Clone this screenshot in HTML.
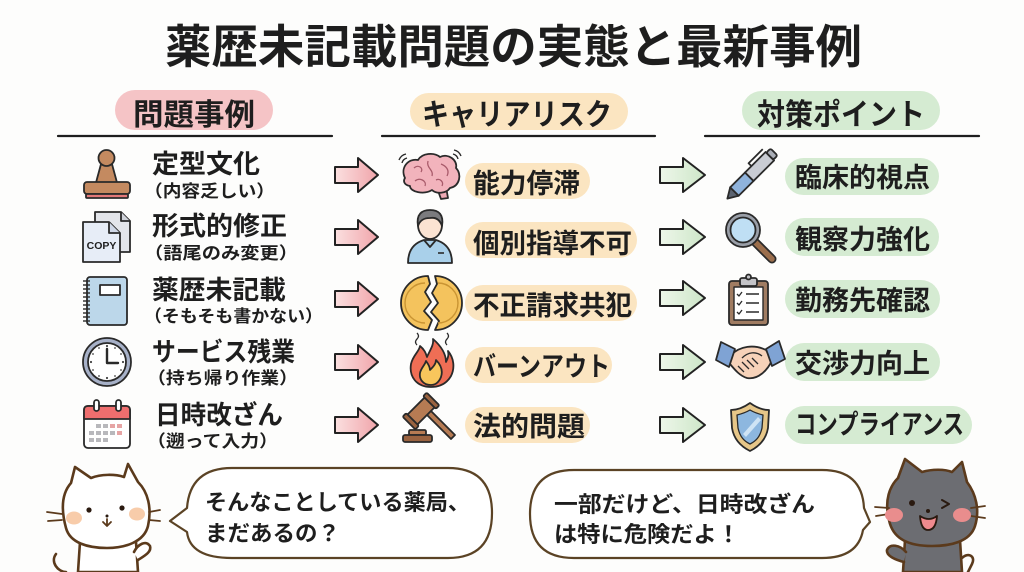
<!DOCTYPE html>
<html><head><meta charset="utf-8">
<style>
html,body{margin:0;padding:0;background:#fdfdfc;}
svg{display:block;}
text{font-family:"Liberation Sans","Noto Sans CJK JP",sans-serif;font-weight:700;fill:#1e1e1e;}
</style></head>
<body>
<svg width="1024" height="572" viewBox="0 0 1024 572" xmlns="http://www.w3.org/2000/svg">
<defs>
<linearGradient id="pg" x1="0" x2="1" y1="0" y2="0"><stop offset="0" stop-color="#fbe0e0"/><stop offset="1" stop-color="#f0a4aa"/></linearGradient>
<linearGradient id="gg" x1="0" x2="1" y1="0" y2="0"><stop offset="0" stop-color="#eef7ea"/><stop offset="1" stop-color="#cde6c8"/></linearGradient>
</defs>
<rect width="1024" height="572" fill="#fdfdfc"/>

<!-- Title -->
<text x="165" y="63" font-size="46" textLength="697" lengthAdjust="spacingAndGlyphs">薬歴未記載問題の実態と最新事例</text>

<!-- Headers -->
<rect x="115" y="90" width="158" height="40" rx="20" fill="#f5c4c6"/>
<text x="133" y="125" font-size="30" textLength="122" lengthAdjust="spacingAndGlyphs">問題事例</text>
<rect x="410" y="93" width="218" height="37" rx="18.5" fill="#fbe5c1"/>
<text x="422" y="125" font-size="30" textLength="190" lengthAdjust="spacingAndGlyphs">キャリアリスク</text>
<rect x="742" y="91" width="198" height="39" rx="19.5" fill="#d5ebd2"/>
<text x="757" y="125" font-size="30" textLength="168" lengthAdjust="spacingAndGlyphs">対策ポイント</text>
<g stroke="#1e1e1e" stroke-width="2.2" stroke-linecap="round">
<line x1="58" y1="136" x2="332" y2="136"/>
<line x1="382" y1="136" x2="655" y2="136"/>
<line x1="705" y1="136" x2="979" y2="136"/>
</g>

<!-- Left column texts -->
<text x="152" y="173" font-size="26" textLength="108" lengthAdjust="spacingAndGlyphs">定型文化</text>
<text x="144" y="197" font-size="17" font-weight="500" textLength="131" lengthAdjust="spacingAndGlyphs">（内容乏しい）</text>
<text x="152" y="235" font-size="26" textLength="135" lengthAdjust="spacingAndGlyphs">形式的修正</text>
<text x="144" y="259" font-size="17" font-weight="500" textLength="154" lengthAdjust="spacingAndGlyphs">（語尾のみ変更）</text>
<text x="152" y="299" font-size="26" textLength="134" lengthAdjust="spacingAndGlyphs">薬歴未記載</text>
<text x="144" y="322" font-size="17" font-weight="500" textLength="179" lengthAdjust="spacingAndGlyphs">（そもそも書かない）</text>
<text x="152" y="361" font-size="26" textLength="143" lengthAdjust="spacingAndGlyphs">サービス残業</text>
<text x="147" y="384" font-size="17" font-weight="500" textLength="151" lengthAdjust="spacingAndGlyphs">（持ち帰り作業）</text>
<text x="155" y="424" font-size="26" textLength="128" lengthAdjust="spacingAndGlyphs">日時改ざん</text>
<text x="147" y="447" font-size="17" font-weight="500" textLength="131" lengthAdjust="spacingAndGlyphs">（遡って入力）</text>

<!-- Pink arrows -->
<g fill="url(#pg)" stroke="#222" stroke-width="2" stroke-linejoin="round">
<path d="M335,167 L358,167 L358,158 L378,175 L358,192 L358,183 L335,183 Z"/>
<path d="M335,229 L358,229 L358,220 L378,237 L358,254 L358,245 L335,245 Z"/>
<path d="M335,291 L358,291 L358,282 L378,299 L358,316 L358,307 L335,307 Z"/>
<path d="M335,354 L358,354 L358,345 L378,362 L358,379 L358,370 L335,370 Z"/>
<path d="M335,417 L358,417 L358,408 L378,425 L358,442 L358,433 L335,433 Z"/>
</g>

<!-- Green arrows -->
<g fill="url(#gg)" stroke="#222" stroke-width="2" stroke-linejoin="round">
<path d="M660,167 L683,167 L683,158 L705,175 L683,192 L683,183 L660,183 Z"/>
<path d="M660,229 L683,229 L683,220 L705,237 L683,254 L683,245 L660,245 Z"/>
<path d="M660,290 L683,290 L683,281 L705,298 L683,315 L683,306 L660,306 Z"/>
<path d="M660,354 L683,354 L683,345 L705,362 L683,379 L683,370 L660,370 Z"/>
<path d="M660,417 L683,417 L683,408 L705,425 L683,442 L683,433 L660,433 Z"/>
</g>

<!-- Middle pills -->
<g fill="#fbe5c1">
<rect x="465" y="163" width="125" height="36" rx="18"/>
<rect x="465" y="222" width="172" height="36" rx="18"/>
<rect x="465" y="285" width="172" height="36" rx="18"/>
<rect x="465" y="347" width="147" height="36" rx="18"/>
<rect x="465" y="407" width="125" height="36" rx="18"/>
</g>
<text x="473" y="193" font-size="27" textLength="107" lengthAdjust="spacingAndGlyphs">能力停滞</text>
<text x="473" y="253" font-size="27" textLength="159" lengthAdjust="spacingAndGlyphs">個別指導不可</text>
<text x="473" y="315" font-size="27" textLength="159" lengthAdjust="spacingAndGlyphs">不正請求共犯</text>
<text x="473" y="376" font-size="27" textLength="137" lengthAdjust="spacingAndGlyphs">バーンアウト</text>
<text x="473" y="436" font-size="27" textLength="112" lengthAdjust="spacingAndGlyphs">法的問題</text>

<!-- Right pills -->
<g fill="#d5ebd2">
<rect x="785" y="158" width="154" height="37" rx="18.5"/>
<rect x="785" y="218" width="154" height="38" rx="19"/>
<rect x="785" y="280" width="155" height="38" rx="19"/>
<rect x="785" y="343" width="155" height="38" rx="19"/>
<rect x="785" y="406" width="187" height="38" rx="19"/>
</g>
<text x="795" y="187" font-size="27" textLength="135" lengthAdjust="spacingAndGlyphs">臨床的視点</text>
<text x="795" y="249" font-size="27" textLength="135" lengthAdjust="spacingAndGlyphs">観察力強化</text>
<text x="795" y="310" font-size="27" textLength="135" lengthAdjust="spacingAndGlyphs">勤務先確認</text>
<text x="795" y="373" font-size="27" textLength="135" lengthAdjust="spacingAndGlyphs">交渉力向上</text>
<text x="795" y="434" font-size="27" textLength="169" lengthAdjust="spacingAndGlyphs">コンプライアンス</text>

<!-- LEFT ICONS -->
<g stroke="#2a2a2a" stroke-width="1.8" stroke-linejoin="round">
<!-- stamp -->
<path d="M101,164 C99,172 97,178 96,183 L117,183 C116,178 114,172 112,164 Z" fill="#c48a60"/>
<circle cx="106.5" cy="158" r="8" fill="#c48a60"/>
<rect x="84" y="182" width="46" height="12" rx="3" fill="#c48a60"/>
<rect x="86" y="194" width="42" height="4" rx="1" fill="#e27878"/>
<!-- copy -->
<path d="M95,212 L121,212 L130,221 L130,252 L95,252 Z" fill="#e3e5ea"/>
<path d="M121,212 L121,221 L130,221" fill="#cfd2d9"/>
<path d="M83,222 L109,222 L120,233 L120,262 L83,262 Z" fill="#e7edf7"/>
<path d="M109,222 L109,233 L120,233" fill="#cfd7e6"/>
</g>
<text x="101.5" y="249" font-size="10.5" text-anchor="middle" style="font-family:'Liberation Sans',sans-serif" fill="#333">COPY</text>
<g stroke="#2a2a2a" stroke-width="1.8" stroke-linejoin="round">
<!-- notebook -->
<rect x="87" y="277" width="40" height="48" rx="3" fill="#bcd7ea"/>
<rect x="100" y="285" width="20" height="10" fill="#fff"/>
<g stroke-width="1.4">
<line x1="83" y1="281" x2="90" y2="281"/><line x1="83" y1="285" x2="90" y2="285"/><line x1="83" y1="289" x2="90" y2="289"/><line x1="83" y1="293" x2="90" y2="293"/><line x1="83" y1="297" x2="90" y2="297"/><line x1="83" y1="301" x2="90" y2="301"/><line x1="83" y1="305" x2="90" y2="305"/><line x1="83" y1="309" x2="90" y2="309"/><line x1="83" y1="313" x2="90" y2="313"/><line x1="83" y1="317" x2="90" y2="317"/><line x1="83" y1="321" x2="90" y2="321"/>
</g>
<!-- clock -->
<circle cx="107" cy="362" r="24" fill="#a7b1c8"/>
<circle cx="107" cy="362" r="19" fill="#fff"/>
<path d="M107,349 L107,363 L118,363" fill="none" stroke-width="2.4" stroke-linecap="round"/>
<!-- calendar -->
<rect x="84" y="406" width="46" height="42" rx="4" fill="#fff"/>
<path d="M84,419 L84,410 Q84,406 88,406 L126,406 Q130,406 130,410 L130,419 Z" fill="#ef6e6e"/>
<rect x="94" y="400" width="5" height="11" rx="2.5" fill="#fff"/>
<rect x="116" y="400" width="5" height="11" rx="2.5" fill="#fff"/>
</g>
<g fill="#444">
<circle cx="107" cy="346" r="1.1"/><circle cx="107" cy="378" r="1.1"/><circle cx="91" cy="362" r="1.1"/><circle cx="123" cy="362" r="1.1"/>
<circle cx="115" cy="348" r="0.9"/><circle cx="121" cy="354" r="0.9"/><circle cx="121" cy="370" r="0.9"/><circle cx="115" cy="376" r="0.9"/><circle cx="99" cy="376" r="0.9"/><circle cx="93" cy="370" r="0.9"/><circle cx="93" cy="354" r="0.9"/><circle cx="99" cy="348" r="0.9"/>
</g>
<g fill="#b8b8bc">
<rect x="96" y="424" width="5" height="4"/><rect x="103" y="424" width="5" height="4"/><rect x="110" y="424" width="5" height="4" fill="#e6a4a4"/><rect x="117" y="424" width="5" height="4" fill="#e6a4a4"/>
<rect x="89" y="431" width="5" height="4"/><rect x="96" y="431" width="5" height="4"/><rect x="103" y="431" width="5" height="4"/><rect x="110" y="431" width="5" height="4"/><rect x="117" y="431" width="5" height="4" fill="#e6a4a4"/>
<rect x="89" y="438" width="5" height="4"/><rect x="96" y="438" width="5" height="4"/><rect x="103" y="438" width="5" height="4"/>
</g>

<!-- MIDDLE ICONS -->
<g stroke="#2a2a2a" stroke-width="1.8" stroke-linejoin="round">
<!-- brain -->
<path d="M437,188 L441,199 L448,198 L446,187 Z" fill="#eeaab4"/>
<path d="M405,178 C400,168 408,158 418,160 C422,153 434,152 440,157 C448,153 458,160 456,168 C462,174 460,186 450,188 C446,194 436,194 432,190 C424,195 410,192 410,186 C404,185 403,181 405,178 Z" fill="#f2b3bc"/>
<path d="M414,168 C418,164 424,168 421,172 M428,161 C426,168 434,170 432,176 M441,164 C446,166 450,170 447,176 M415,181 C420,177 427,181 425,186 M436,180 C440,178 444,182 442,186" fill="none" stroke="#a85a6a" stroke-width="1.3"/>
<path d="M399,160 Q401,155 406,154 M402,163 Q403,159 407,158 M461,156 Q459,151 454,150 M458,159 Q457,155 453,154" fill="none" stroke-width="1.4"/>
<!-- person -->
<path d="M408,263 C408,250 414,243 424,240 L436,240 C446,243 452,250 452,263 Z" fill="#a9d0ea"/>
<path d="M424,240 L430,247 L436,240" fill="none"/>
<line x1="438" y1="253" x2="444" y2="253" stroke-width="1.6"/>
<ellipse cx="430" cy="225" rx="12" ry="14" fill="#fbe3d2"/>
<path d="M418,226 C416,214 422,210 430,210 C439,210 444,215 442,226 C440,220 436,217 430,218 C424,218 420,220 418,226 Z" fill="#7b7b7e"/>
<!-- coin -->
<path d="M428,276 A27,27 0 0 0 428,330 L432,320 L424,311 L431,302 L425,292 L430,284 Z" fill="#f4c35d"/>
<path d="M435,276 A27,27 0 0 1 435,330 L439,321 L431,312 L438,303 L432,293 L437,284 Z" fill="#f4c35d"/>
<path d="M425,283 A20,20 0 0 0 425,323" fill="none" stroke="#c99433" stroke-width="1.4"/>
<path d="M438,283 A20,20 0 0 1 438,323" fill="none" stroke="#c99433" stroke-width="1.4"/>
<!-- fire -->
<path d="M431,387 C416,387 409,376 411,364 C413,355 419,352 420,346 C425,350 426,354 427,357 C430,350 434,345 433,339 C441,346 446,354 446,362 C448,358 449,355 448,351 C454,358 455,368 451,376 C447,383 440,387 431,387 Z" fill="#ef6e55"/>
<path d="M431,385 C423,385 419,379 420,373 C421,368 425,365 426,361 C429,365 430,368 430,370 C433,367 436,364 436,360 C441,365 443,371 441,377 C439,382 436,385 431,385 Z" fill="#f8c65c"/>
<path d="M417,345 q-3,-3 0,-6 q3,-3 0,-6 M447,345 q-3,-3 0,-6 q3,-3 0,-6" fill="none" stroke-width="1.3"/>
<!-- gavel -->
<path d="M424,412 L451,439 L455,435 L428,408 Z" fill="#b67b53"/>
<g transform="rotate(-45 421 411)">
<rect x="407" y="404" width="28" height="14" rx="2" fill="#b67b53"/>
<rect x="404" y="402" width="5" height="18" rx="1.5" fill="#9a6340"/>
<rect x="433" y="402" width="5" height="18" rx="1.5" fill="#9a6340"/>
</g>
<rect x="409" y="430" width="17" height="5" rx="1.5" fill="#b67b53"/>
<rect x="403" y="435" width="29" height="7" rx="2" fill="#9a6340"/>
</g>

<!-- RIGHT ICONS -->
<g stroke="#2a2a2a" stroke-width="1.8" stroke-linejoin="round">
<!-- pen -->
<g transform="rotate(-45 750 176)">
<path d="M718,176 L728,170 L728,182 Z" fill="#5b6370"/>
<rect x="728" y="170" width="21" height="12" fill="#8fb3dc"/>
<rect x="749" y="170" width="29" height="12" fill="#c9ccd3"/>
<rect x="778" y="171" width="6" height="10" rx="2" fill="#a9adb6"/>
<path d="M758,170 L758,166 L778,166" fill="none"/>
</g>
<!-- magnifier -->
<line x1="754" y1="241" x2="772" y2="259" stroke="#2a2a2a" stroke-width="9" stroke-linecap="round"/>
<line x1="754" y1="241" x2="772" y2="259" stroke="#9b6e4c" stroke-width="5.5" stroke-linecap="round"/>
<circle cx="743" cy="230" r="17" fill="#9a9fa8"/>
<circle cx="743" cy="230" r="12.5" fill="#bfdff4"/>
<!-- clipboard -->
<rect x="729" y="281" width="39" height="44" rx="3" fill="#a07c62"/>
<rect x="734" y="287" width="29" height="33" fill="#fff" stroke-width="1.4"/>
<rect x="740" y="278" width="17" height="8" rx="2" fill="#c4c4c8"/>
<circle cx="748.5" cy="277" r="2.5" fill="#c4c4c8"/>
<path d="M737,294 l2,2 l3,-4 M737,303 l2,2 l3,-4 M737,312 l2,2 l3,-4" fill="none" stroke-width="1.3"/>
<path d="M746,294 h13 M746,303 h13 M746,312 h13" stroke-width="1.6"/>
<!-- handshake -->
<path d="M731,355 C740,346 754,344 766,350 L772,360 C768,370 758,380 747,378 C740,376 735,370 730,364 Z" fill="#f6d2b9"/>
<path d="M742,358 C748,352 756,351 762,356 M738,366 l6,6 M742,362 l7,7 M747,360 l7,7 M752,358 l6,6" fill="none" stroke-width="1.3"/>
<path d="M721,342 L735,349 L729,367 L716,360 Z" fill="#7fa3d4"/>
<path d="M766,349 L779,341 L785,359 L772,366 Z" fill="#7fa3d4"/>
<!-- shield -->
<path d="M750,403 C757,408 764,410 769,410 L768,428 C766,440 758,447 750,451 C742,447 734,440 732,428 L731,410 C736,410 743,408 750,403 Z" fill="#e6c688"/>
<path d="M750,410 C755,413 759,414 763,415 L762,428 C760,437 756,441 750,444 C744,441 740,437 738,428 L737,415 C741,414 745,413 750,410 Z" fill="#8db7df" stroke-width="1.3"/>
<path d="M743,434 L758,417 L761,420 L746,437 Z" fill="#cfe4f5" stroke="none"/>
</g>

<!-- Speech bubbles -->
<path d="M232,468 L448,468 Q492,468 492,513 Q492,558 448,558 L232,558 Q190,558 187,532 L170,521 L187,508 Q190,468 232,468 Z" fill="#fff" stroke="#5b4325" stroke-width="2.2" stroke-linejoin="round"/>
<text x="205" y="510" font-size="22" textLength="265" lengthAdjust="spacingAndGlyphs">そんなことしている薬局、</text>
<text x="205" y="541" font-size="22" textLength="135" lengthAdjust="spacingAndGlyphs">まだあるの？</text>

<path d="M574,470 L822,470 Q862,470 864,508 L870,522 L863,530 Q858,558 822,558 L574,558 Q530,558 530,514 Q530,470 574,470 Z" fill="#fff" stroke="#5b4325" stroke-width="2.2" stroke-linejoin="round"/>
<text x="554" y="512" font-size="22" textLength="261" lengthAdjust="spacingAndGlyphs">一部だけど、日時改ざん</text>
<text x="554" y="542" font-size="22" textLength="186" lengthAdjust="spacingAndGlyphs">は特に危険だよ！</text>

<!-- Left cat -->
<g stroke="#5b3a1c" stroke-width="2.6" stroke-linejoin="round" stroke-linecap="round">
<path d="M80,542 L78,572 L138,572 L136,542 Z" fill="#fff"/>
<path d="M56,554 C50,562 58,572 66,572" fill="none"/>
<path d="M134,552 C138,544 146,540 150,546 C152,552 144,556 138,560" fill="#fff"/>
<path d="M66,528 C60,506 63,492 71,483 L75,467 L91,478 C101,474 115,474 124,477 L128,464 L138,482 C148,492 152,508 148,526 C144,542 125,548 107,548 C88,548 70,543 66,528 Z" fill="#fff"/>
<path d="M47,512 L62,514 M48,521 L62,520 M149,512 L160,510 M149,520 L160,521" fill="none" stroke-width="1.8"/>
<path d="M103,522 L107,526 L111,522 M107,519 L107,526" fill="none" stroke-width="1.8"/>
</g>
<ellipse cx="74" cy="518" rx="8" ry="6.5" fill="#f8ccaa"/>
<ellipse cx="137" cy="514" rx="8" ry="6.5" fill="#f8ccaa"/>
<circle cx="89" cy="510" r="2.6" fill="#2a1a10"/>
<circle cx="122" cy="508" r="2.6" fill="#2a1a10"/>
<circle cx="107" cy="516" r="1.5" fill="#2a1a10"/>

<!-- Right cat -->
<g stroke="#5b3a1c" stroke-width="2.6" stroke-linejoin="round" stroke-linecap="round">
<path d="M962,558 C968,552 976,556 972,564 L968,572" fill="none"/>
<path d="M905,540 L903,572 L962,572 L960,540 Z" fill="#6c6d72"/>
<path d="M906,552 C900,545 890,543 887,550 C886,556 896,560 904,562" fill="#6c6d72"/>
<path d="M889,520 C884,500 890,486 898,478 L905,459 L922,472 C932,469 945,469 952,472 L962,462 L967,482 C976,494 980,510 975,526 C970,542 950,546 932,546 C910,546 893,540 889,520 Z" fill="#6c6d72"/>
<path d="M875,507 L889,508 M876,516 L889,514 M971,508 L985,506 M971,516 L985,518" fill="none" stroke-width="1.8"/>
<path d="M942,500 L949,504 L942,508" fill="none" stroke="#2a1a10" stroke-width="2"/>
<path d="M920,516 Q929,522 937,516 Q936,530 928,530 Q921,530 920,516 Z" fill="#f08a8e" stroke="#2a1a10" stroke-width="1.8"/>
</g>
<ellipse cx="894" cy="515" rx="9" ry="7" fill="#e98d8d"/>
<ellipse cx="962" cy="515" rx="9" ry="7" fill="#e98d8d"/>
<circle cx="912" cy="503" r="3" fill="#2a1a10"/>
<circle cx="928" cy="511" r="2" fill="#2a1a10"/>
</svg>
</body></html>
